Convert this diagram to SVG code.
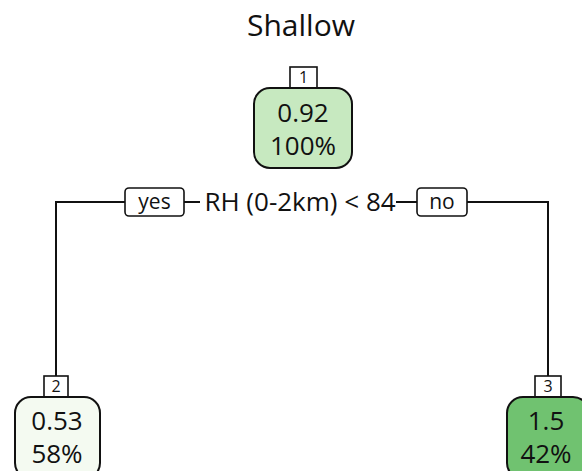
<svg xmlns="http://www.w3.org/2000/svg" width="582" height="471" viewBox="0 0 582 471">
<style>
text{font-family:"Open Sans","Liberation Sans",sans-serif;fill:#111;text-anchor:middle}
.box{stroke:#111;stroke-width:2}
.lab{fill:#fff;stroke:#111;stroke-width:1.6}
.edge{fill:none;stroke:#111;stroke-width:2}
.big{font-size:26px}
.num{font-size:16px}
.yn{font-size:21px}
</style>
<rect width="582" height="471" fill="#fff"/>
<text x="301" y="36" style="font-size:30px">Shallow</text>
<g id="connectors">
<polyline class="edge" points="125,202 56,202 56,376"/>
<line class="edge" x1="184" y1="202" x2="200" y2="202"/>
<line class="edge" x1="396" y1="202" x2="417" y2="202"/>
<polyline class="edge" points="467,202 548,202 548,376"/>
<text x="300" y="211" class="big">RH (0-2km) &lt; 84</text>
<rect class="lab" x="125" y="188" width="59" height="28" rx="4"/>
<text x="154.5" y="209" class="yn">yes</text>
<rect class="lab" x="417" y="188" width="50" height="28" rx="4"/>
<text x="442" y="209" class="yn">no</text>
</g>
<g id="node1">
<rect class="lab" x="290" y="67" width="27" height="21"/>
<text x="303.5" y="83" class="num">1</text>
<rect class="box" x="254" y="88" width="98" height="80" rx="16" fill="#c7e9c0"/>
<text x="303" y="122" class="big">0.92</text>
<text x="303" y="155" class="big">100%</text>
</g>
<g id="node2">
<rect class="lab" x="44" y="376" width="24" height="21"/>
<text x="56" y="392" class="num">2</text>
<rect class="box" x="15" y="397" width="85" height="82" rx="16" fill="#f4faf1"/>
<text x="57" y="430" class="big">0.53</text>
<text x="57" y="463" class="big">58%</text>
</g>
<g id="node3">
<rect class="lab" x="535" y="376" width="26" height="21"/>
<text x="548" y="392" class="num">3</text>
<rect class="box" x="507" y="397" width="82" height="82" rx="16" fill="#70c270"/>
<text x="546" y="430" class="big">1.5</text>
<text x="546" y="463" class="big">42%</text>
</g>
</svg>
